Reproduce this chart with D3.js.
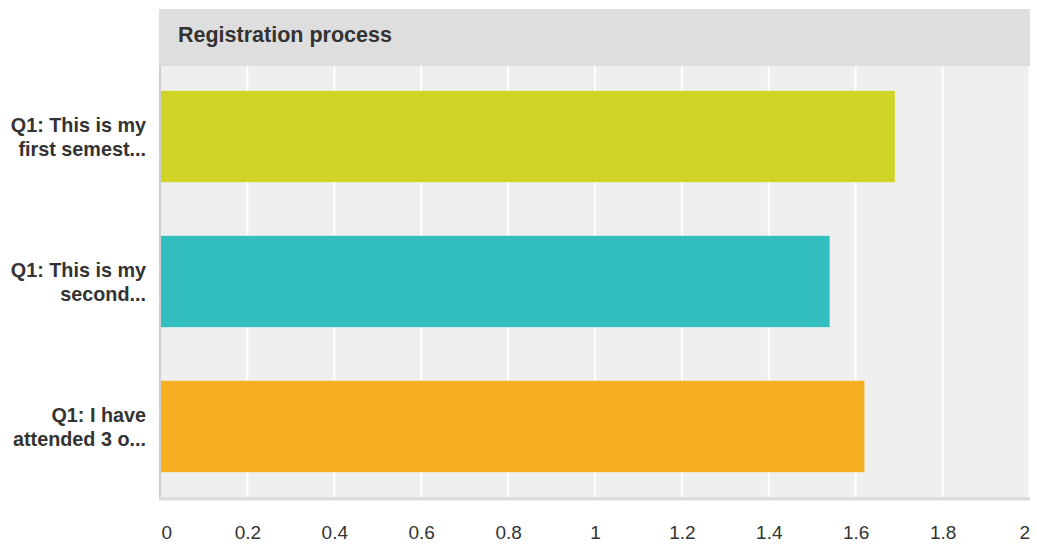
<!DOCTYPE html>
<html><head><meta charset="utf-8">
<script src="https://cdn.jsdelivr.net/npm/d3@7"></script>
<style>body{margin:0;background:#fff;}svg{display:block;font-family:"Liberation Sans",Arial,sans-serif;}</style>
</head><body>
<script>
const title = "Registration process";
const categories = [["Q1: This is my","first semest..."],["Q1: This is my","second..."],["Q1: I have","attended 3 o..."]];
const values = [1.69, 1.54, 1.62];
const colors = ["#cfd427", "#33bec0", "#f6af20"];
const ticks = [0,0.2,0.4,0.6,0.8,1,1.2,1.4,1.6,1.8,2];

(function(){
const W=1037,H=544;
const svg=d3.select("body").append("svg").attr("width",W).attr("height",H);
const x=d3.scaleLinear().domain([0,2]).range([160.5,1029.5]);
const y=d3.scaleBand().domain(d3.range(categories.length)).range([64,499]).paddingInner(0.37).paddingOuter(0.185);
const pTop=66,pBottom=497;

// header
svg.append("rect").attr("x",159).attr("y",9).attr("width",1030-159).attr("height",pTop-9).attr("fill","#dedede");
svg.append("text").attr("x",178).attr("y",42).attr("font-size",21.5).attr("font-weight","bold").attr("fill","#333").text(title);
// plot bg
svg.append("rect").attr("x",160).attr("y",pTop).attr("width",1030-160).attr("height",pBottom-pTop).attr("fill","#efefef");
// grid
svg.append("g").selectAll("line").data(ticks.slice(1)).join("line")
 .attr("x1",d=>x(d)).attr("x2",d=>x(d)).attr("y1",pTop).attr("y2",pBottom)
 .attr("stroke","#fff").attr("stroke-width",2);
// bars
svg.append("g").selectAll("rect").data(values).join("rect")
 .attr("x",x(0)+0.5).attr("y",(d,i)=>y(i)).attr("width",d=>x(d)-x(0)-0.5).attr("height",y.bandwidth())
 .attr("fill",(d,i)=>colors[i]);
// left axis line
svg.append("line").attr("x1",160).attr("x2",160).attr("y1",pTop).attr("y2",500).attr("stroke","#cfcfcf").attr("stroke-width",2);
// bottom axis line
svg.append("rect").attr("x",159).attr("y",497).attr("width",1030-159).attr("height",3.5).attr("fill","#dcdcdc");
// x axis labels
const xa=d3.axisBottom(x).tickValues(ticks).tickFormat(d3.format("~g")).tickSize(0).tickPadding(0);
const gx=svg.append("g").attr("transform","translate(0,525)").call(xa);
gx.select(".domain").remove();
gx.selectAll("text").attr("font-size",19).attr("fill","#333").attr("font-family","'Liberation Sans',Arial,sans-serif").attr("dy","0.71em")
 .attr("text-anchor",(d,i)=>i===0?"start":(i===ticks.length-1?"end":"middle"))
 .attr("dx",(d,i)=>i===0?"0.5":"0");
// category labels
const cl=svg.append("g").selectAll("text").data(categories).join("text")
 .attr("x",146).attr("y",(d,i)=>y(i)+y.bandwidth()/2-4.5)
 .attr("text-anchor","end").attr("font-size",19.8).attr("font-weight","bold").attr("fill","#333");
cl.each(function(d){
  const t=d3.select(this);
  d.forEach((s,j)=>t.append("tspan").attr("x",146).attr("dy",j===0?0:24).text(s));
});
})();
</script>
</body></html>
